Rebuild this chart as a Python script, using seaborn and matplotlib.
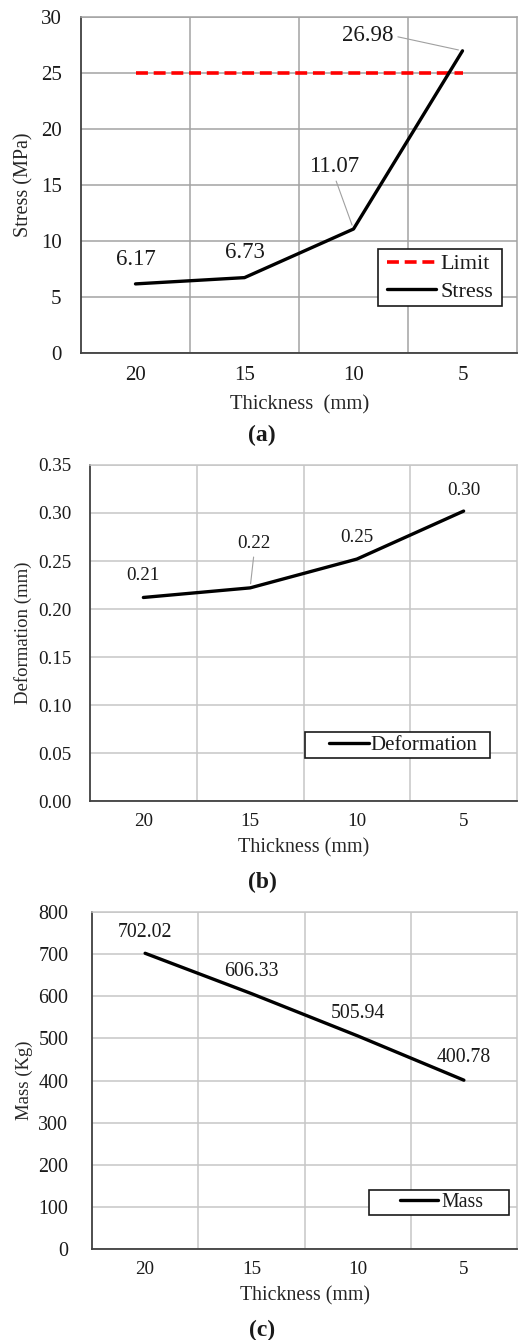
import pandas as pd
import seaborn as sns
import matplotlib.pyplot as plt
from matplotlib.lines import Line2D
from matplotlib.legend_handler import HandlerLine2D

# data
thickness = ['20', '15', '10', '5']
stress = [6.17, 6.73, 11.07, 26.98]
stress_limit = 25
deformation = [0.212, 0.222, 0.252, 0.302]
mass = [702.02, 606.33, 505.94, 400.78]

df = pd.DataFrame({
    'Thickness': thickness,
    'Stress': stress,
    'Limit': [stress_limit] * len(thickness),
    'Deformation': deformation,
    'Mass': mass,
})

sns.set_style('white')
plt.rcParams['font.family'] = ['Liberation Serif', 'DejaVu Serif']
plt.rcParams['text.color'] = '#1a1a1a'
plt.rcParams['xtick.color'] = '#1a1a1a'
plt.rcParams['ytick.color'] = '#1a1a1a'

W, H = 519, 1340
fig = plt.figure(figsize=(W / 100, H / 100), dpi=100)


def add_ax(left, top, right, bottom):
    return fig.add_axes([left / W, 1 - bottom / H, (right - left) / W, (bottom - top) / H])


def style(ax, yticks, fmt, grid_color, ypad, xfs, yfs):
    ax.set_xlim(-0.5, 3.5)
    ax.set_ylim(yticks[0], yticks[-1])
    ax.set_yticks(yticks)
    ax.set_yticklabels([fmt.format(v) for v in yticks])
    ax.set_xticks(range(len(thickness)))
    ax.set_xticklabels(thickness)
    ax.set_xticks([0.5, 1.5, 2.5], minor=True)
    ax.grid(False)
    ax.yaxis.grid(True, color=grid_color, lw=1.1)
    ax.xaxis.grid(True, which='minor', color=grid_color, lw=1.1)
    ax.tick_params(axis='x', which='major', length=5, width=1, direction='in',
                   color='#404040', pad=9, labelsize=xfs)
    ax.tick_params(axis='x', which='minor', length=0)
    ax.tick_params(axis='y', length=0, pad=ypad, labelsize=yfs)
    for s in ['left', 'bottom']:
        ax.spines[s].set_color('#404040')
        ax.spines[s].set_linewidth(1.3)
    for s in ['top', 'right']:
        ax.spines[s].set_color(grid_color)
        ax.spines[s].set_linewidth(1.1)
    ax.set_axisbelow(True)


def legend(ax, bbox, fs, xpad, hlen, htpad, bpad, lspace):
    leg = ax.legend(loc='lower left', bbox_to_anchor=bbox, mode='expand', borderaxespad=0,
                    fontsize=fs, handlelength=hlen, handletextpad=htpad, borderpad=bpad,
                    labelspacing=lspace, fancybox=False, framealpha=1, edgecolor='#1a1a1a',
                    handler_map={Line2D: HandlerLine2D(xpad=xpad)})
    leg.get_frame().set_linewidth(1.2)


gap_line = dict(arrowstyle='-', color='#a0a0a0', lw=0.8, shrinkA=1, shrinkB=3)

# (a) stress
ax = add_ax(81, 17, 517, 353)
sns.lineplot(data=df, x='Thickness', y='Limit', ax=ax, color='#ff0000', lw=2.6,
             linestyle=(0, (3.3, 1.6)), label='Limit', sort=False)
sns.lineplot(data=df, x='Thickness', y='Stress', ax=ax, color='black', lw=2.4,
             label='Stress', sort=False)
style(ax, list(range(0, 31, 5)), '{:d}', '#a3a3a3', 14, 15, 15)
offs = [(0, 24, None), (0, 25, None), (-19, 63, (0.5, 0)), (-95, 15, (1, 0.5))]
for i, (v, (dx, dy, rel)) in enumerate(zip(stress, offs)):
    kw = {}
    if rel is not None:
        kw['arrowprops'] = dict(gap_line, relpos=rel)
    ax.annotate(f'{v:.2f}', xy=(i, v), xytext=(dx, dy), textcoords='offset pixels',
                ha='center', va='center', fontsize=16.5, **kw)
ax.set_xlabel('Thickness  (mm)', fontsize=14.9)
ax.set_ylabel('Stress (MPa)', fontsize=14.5)
ax.xaxis.set_label_coords(0.502, -0.126)
ax.yaxis.set_label_coords(-0.110, 0.5)
legend(ax, (0.681, 0.140, 0.284, 0.167), 16, 0.2, 2.4, 0.2, 0.2, 0.3)
fig.text(262 / W, 1 - 435 / H, '(a)', ha='center', va='center', fontsize=17, weight='bold')

# (b) deformation
ax = add_ax(90, 465, 517, 801)
sns.lineplot(data=df, x='Thickness', y='Deformation', ax=ax, color='black', lw=2.4,
             label='Deformation', sort=False)
style(ax, [i * 0.05 for i in range(8)], '{:.2f}', '#c6c6c6', 13, 13.8, 13.8)
offs = [(0, 22, None), (4, 44, (0.5, 0)), (0, 22, None), (0, 21, None)]
for i, (v, (dx, dy, rel)) in enumerate(zip(deformation, offs)):
    kw = {}
    if rel is not None:
        kw['arrowprops'] = dict(gap_line, relpos=rel)
    ax.annotate(f'{v:.2f}', xy=(i, v), xytext=(dx, dy), textcoords='offset pixels',
                ha='center', va='center', fontsize=13.8, **kw)
ax.set_xlabel('Thickness (mm)', fontsize=14.5)
ax.set_ylabel('Deformation (mm)', fontsize=13.5)
ax.xaxis.set_label_coords(0.501, -0.112)
ax.yaxis.set_label_coords(-0.136, 0.5)
legend(ax, (0.5035, 0.128, 0.433, 0.083), 15, 1.0, 2.9, 0.1, 0.15, 0.3)
fig.text(262 / W, 1 - 882 / H, '(b)', ha='center', va='center', fontsize=17, weight='bold')

# (c) mass
ax = add_ax(92, 912, 517, 1249)
sns.lineplot(data=df, x='Thickness', y='Mass', ax=ax, color='black', lw=2.4,
             label='Mass', sort=False)
style(ax, list(range(0, 801, 100)), '{:d}', '#c6c6c6', 17, 13.8, 14.4)
for i, (v, dy) in enumerate(zip(mass, [21, 22, 22, 23])):
    ax.annotate(f'{v:.2f}', xy=(i, v), xytext=(0, dy), textcoords='offset pixels',
                ha='center', va='center', fontsize=14.3)
ax.set_xlabel('Thickness (mm)', fontsize=14.3)
ax.set_ylabel('Mass (Kg)', fontsize=13.5)
ax.xaxis.set_label_coords(0.501, -0.111)
ax.yaxis.set_label_coords(-0.139, 0.5)
legend(ax, (0.652, 0.101, 0.329, 0.086), 14.3, 1.4, 3.3, 0.2, 0.15, 0.3)
fig.text(262 / W, 1 - 1330 / H, '(c)', ha='center', va='center', fontsize=17, weight='bold')

fig.savefig('out.png', dpi=100)
